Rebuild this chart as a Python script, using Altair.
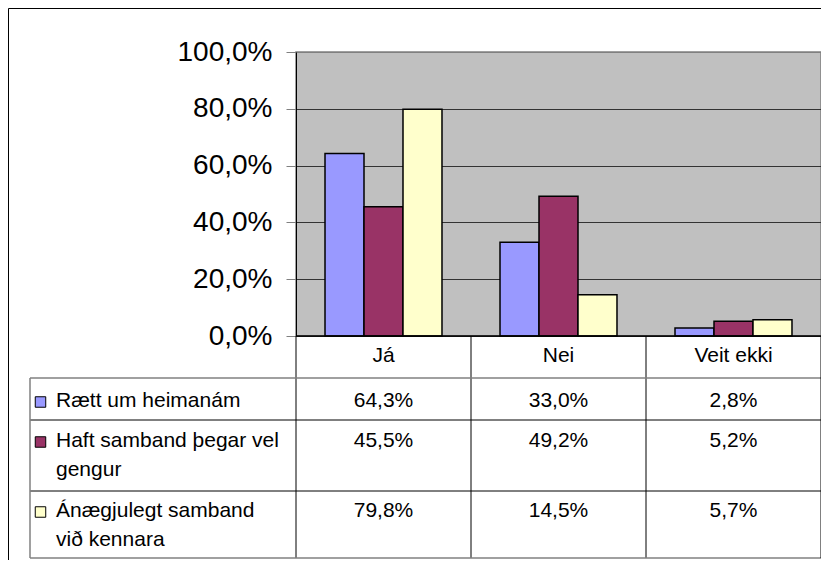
import altair as alt
import pandas as pd

# ---------------- data ----------------
categories = ["Já", "Nei", "Veit ekki"]
series = ["Rætt um heimanám", "Haft samband þegar vel gengur", "Ánægjulegt samband við kennara"]
series_wrapped = ["Rætt um heimanám", "Haft samband þegar vel\ngengur", "Ánægjulegt samband\nvið kennara"]
vals_raett = [64.3, 33.0, 2.8]
vals_haft = [45.5, 49.2, 5.2]
vals_anaegj = [79.8, 14.5, 5.7]
colors = ["#9999FF", "#993366", "#FFFFCC"]
y_ticks = [0.0, 0.2, 0.4, 0.6, 0.8, 1.0]

# ---------------- layout (pixels) ----------------
FONT = "Liberation Sans"
W, H = 525, 284
PAD_L, PAD_T, PAD_B = 288, 44, 224
HEADER_H = 42
ROW_H = [42, 71, 67]
TABLE_LEFT = -266
BASE_OFF = [29, 27, 26]

row_tops = []
t = H + HEADER_H
for h in ROW_H:
    row_tops.append(t)
    t += h
TABLE_BOTTOM = t
baselines = [rt + off for rt, off in zip(row_tops, BASE_OFF)]

recs = []
for s, vals in zip(series, [vals_raett, vals_haft, vals_anaegj]):
    for c, v in zip(categories, vals):
        recs.append({"cat": c, "series": s, "value": v / 100.0,
                     "label": f"{v:.1f}%".replace(".", ",")})
df = pd.DataFrame(recs)
df["ty"] = df["series"].map(dict(zip(series, baselines)))

leg = pd.DataFrame({"series": series, "text": series_wrapped,
                    "ty": baselines, "sy": [b - 5 for b in baselines]})
cats_df = pd.DataFrame({"cat": categories})

xscale = alt.Scale(domain=categories, paddingInner=0, paddingOuter=0)
color_scale = alt.Scale(domain=series, range=colors)

bars = alt.Chart(df).mark_bar(stroke="black", strokeWidth=1.5).encode(
    x=alt.X("cat:N", sort=categories, scale=xscale, axis=None),
    xOffset=alt.XOffset("series:N", sort=series,
                        scale=alt.Scale(domain=series, paddingInner=0, paddingOuter=0.744)),
    y=alt.Y("value:Q", scale=alt.Scale(domain=[0, 1], nice=False),
            axis=alt.Axis(values=y_ticks, title=None,
                          labelExpr="replace(format(datum.value, '.1%'), '.', ',')",
                          labelFont=FONT, labelFontSize=28, labelColor="black",
                          labelPadding=14, tickSize=10, tickColor="#808080",
                          domainColor="black", domainWidth=1,
                          grid=True, gridWidth=1,
                          gridColor={"condition": {"test": "datum.value >= 1", "value": "#808080"},
                                     "value": "#333333"})),
    color=alt.Color("series:N", scale=color_scale, legend=None),
)

cells = alt.Chart(df).mark_text(font=FONT, fontSize=21, baseline="alphabetic",
                                align="center", color="black").encode(
    x=alt.X("cat:N", sort=categories, scale=xscale, axis=None),
    y=alt.Y("ty:Q", scale=None, axis=None),
    text="label:N",
)

header = alt.Chart(cats_df).mark_text(font=FONT, fontSize=21, baseline="alphabetic",
                                      align="center", color="black").encode(
    x=alt.X("cat:N", sort=categories, scale=xscale, axis=None),
    y=alt.value(H + 26),
    text="cat:N",
)

leg_text = alt.Chart(leg).mark_text(font=FONT, fontSize=21, baseline="alphabetic",
                                    align="left", color="black", lineBreak="\n",
                                    lineHeight=29).encode(
    x=alt.value(TABLE_LEFT + 26),
    y=alt.Y("ty:Q", scale=None, axis=None),
    text="text:N",
)

leg_sw = alt.Chart(leg).mark_square(size=110, opacity=1, stroke="black",
                                    strokeWidth=1, filled=True).encode(
    x=alt.value(TABLE_LEFT + 10.5),
    y=alt.Y("sy:Q", scale=None, axis=None),
    color=alt.Color("series:N", scale=color_scale, legend=None),
)

col_lines = alt.Chart(cats_df).mark_rule(color="black", strokeWidth=1).encode(
    x=alt.X("cat:N", sort=categories, scale=xscale, axis=None, bandPosition=0),
    y=alt.value(H),
    y2=alt.value(TABLE_BOTTOM),
)

one = pd.DataFrame({"a": [0]})


def hline(y, x0, x1, color, w):
    return alt.Chart(one).mark_rule(color=color, strokeWidth=w).encode(
        x=alt.value(x0), x2=alt.value(x1), y=alt.value(y))


def vline(x, y0, y1, color, w):
    return alt.Chart(one).mark_rule(color=color, strokeWidth=w).encode(
        x=alt.value(x), y=alt.value(y0), y2=alt.value(y1))


lines = [
    hline(H, 0, W, "black", 1.5),
    hline(H + HEADER_H, TABLE_LEFT, W, "#808080", 1.5),
    hline(row_tops[1], TABLE_LEFT, W, "black", 1),
    hline(row_tops[2], TABLE_LEFT, W, "black", 1),
    hline(TABLE_BOTTOM, TABLE_LEFT, W, "#808080", 1.5),
    vline(TABLE_LEFT, H + HEADER_H, TABLE_BOTTOM, "#808080", 1.5),
    vline(W, H, TABLE_BOTTOM, "black", 1),
    # outer frame
    hline(-PAD_T + 0.5, -PAD_L + 0.5, W, "black", 1),
    vline(-PAD_L + 0.5, -PAD_T + 0.5, H + PAD_B, "black", 1),
]

chart = alt.layer(bars, cells, header, leg_text, leg_sw, col_lines, *lines).resolve_scale(
    y="independent"
).properties(
    width=W, height=H,
    autosize=alt.AutoSizeParams(type="none"),
    padding={"left": PAD_L, "top": PAD_T, "right": 0, "bottom": PAD_B},
    background="white",
).configure_view(fill="#C0C0C0", stroke="#808080", strokeWidth=1.5)

chart.save("out.html", embed_options={"renderer": "svg", "actions": False})
